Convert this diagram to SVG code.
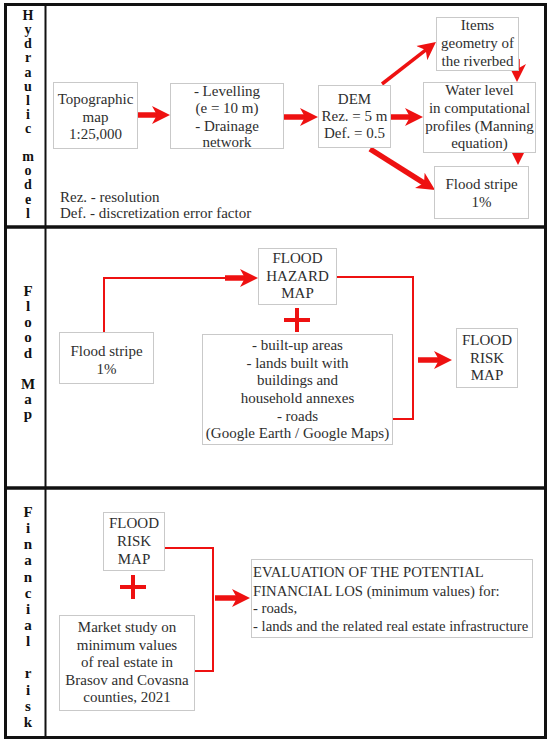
<svg xmlns="http://www.w3.org/2000/svg" width="549" height="742" viewBox="0 0 549 742">
<style>
  .bx{fill:#fff;stroke:#c9c9c9;stroke-width:1}
  .t{font-family:"Liberation Serif","Times New Roman","DejaVu Serif",serif;font-size:15px;fill:#2e2e2e;text-anchor:middle}
  .tl{font-family:"Liberation Serif","Times New Roman","DejaVu Serif",serif;font-size:15px;fill:#2e2e2e;text-anchor:start}
  .te{font-family:"Liberation Serif","Times New Roman","DejaVu Serif",serif;font-size:14.7px;fill:#2e2e2e;text-anchor:start}
  .v{font-family:"Liberation Serif","Times New Roman","DejaVu Serif",serif;font-size:15px;font-weight:bold;fill:#111;text-anchor:middle}
  .vs{font-family:"Liberation Serif","Times New Roman","DejaVu Serif",serif;font-size:14px;font-weight:bold;fill:#111;text-anchor:middle}
  .fr{fill:none;stroke:#111}
  .ar{stroke:#ee1111;stroke-width:5.5;fill:none;marker-end:url(#ah)}
  .ard{stroke:#ee1111;stroke-width:3.5;fill:none;marker-end:url(#ah)}
  .ln{stroke:#ee1111;stroke-width:2;fill:none}
  .pl{stroke:#ee1111;stroke-width:4;fill:none}
</style>
<defs>
  <marker id="ah" markerUnits="userSpaceOnUse" markerWidth="20" markerHeight="20" refX="6" refY="10" orient="auto">
    <path d="M0,1 L18,10 L0,19 L5,10 Z" fill="#ee1111"/>
  </marker>
</defs>
<rect width="549" height="742" fill="#fff"/>
<g id="frame">
  <rect class="fr" x="5.5" y="4.5" width="540" height="733" stroke-width="3"/>
  <line class="fr" x1="45.5" y1="4" x2="45.5" y2="738" stroke-width="2"/>
  <line class="fr" x1="4" y1="227" x2="546" y2="227" stroke-width="3.5"/>
  <line class="fr" x1="4" y1="488" x2="546" y2="488" stroke-width="3.5"/>
</g>
<g id="label-hydraulic">
  <text class="vs" x="28" y="20">H</text>
  <text class="vs" x="28" y="34">y</text>
  <text class="vs" x="28" y="48">d</text>
  <text class="vs" x="28" y="62">r</text>
  <text class="vs" x="28" y="77">a</text>
  <text class="vs" x="28" y="91">u</text>
  <text class="vs" x="28" y="105">l</text>
  <text class="vs" x="28" y="119">i</text>
  <text class="vs" x="28" y="133">c</text>
  <text class="vs" x="28" y="161">m</text>
  <text class="vs" x="28" y="175">o</text>
  <text class="vs" x="28" y="189">d</text>
  <text class="vs" x="28" y="204">e</text>
  <text class="vs" x="28" y="218">l</text>
</g>
<g id="label-floodmap">
  <text class="v" x="28" y="296">F</text>
  <text class="v" x="28" y="311">l</text>
  <text class="v" x="28" y="327">o</text>
  <text class="v" x="28" y="342">o</text>
  <text class="v" x="28" y="358">d</text>
  <text class="v" x="28" y="389">M</text>
  <text class="v" x="28" y="404">a</text>
  <text class="v" x="28" y="419">p</text>
</g>
<g id="label-financial">
  <text class="v" x="28" y="517">F</text>
  <text class="v" x="28" y="533">i</text>
  <text class="v" x="28" y="549">n</text>
  <text class="v" x="28" y="565">a</text>
  <text class="v" x="28" y="582">n</text>
  <text class="v" x="28" y="598">c</text>
  <text class="v" x="28" y="614">i</text>
  <text class="v" x="28" y="630">a</text>
  <text class="v" x="28" y="646">l</text>
  <text class="v" x="28" y="678">r</text>
  <text class="v" x="28" y="695">i</text>
  <text class="v" x="28" y="711">s</text>
  <text class="v" x="28" y="727">k</text>
</g>
<g id="connectors">
  <line class="ar" x1="138" y1="115" x2="158" y2="115"/>
  <line class="ar" x1="284" y1="117" x2="306" y2="117"/>
  <line class="ar" x1="391" y1="117" x2="411" y2="117"/>
  <line class="ard" x1="382" y1="84" x2="426.5" y2="49.4"/>
  <line class="ar" x1="370" y1="149" x2="424.9" y2="183.6"/>
  <line class="ar" x1="517" y1="59" x2="517" y2="70"/>
  <line class="ar" x1="518" y1="142" x2="518" y2="153"/>
  <polyline class="ln" points="104,332 104,278 226,278"/>
  <line class="ar" x1="225" y1="278" x2="246" y2="278"/>
  <polyline class="ln" points="336,277 413,277 413,419 392,419"/>
  <line class="ar" x1="418" y1="360" x2="440" y2="360"/>
  <polyline class="ln" points="164,548 213,548 213,671 194,671"/>
  <line class="ar" x1="215" y1="598" x2="238" y2="598"/>
  <path class="pl" d="M284,320 H310 M297,308 V332"/>
  <path class="pl" d="M120,587 H146 M133,575 V599"/>
</g>
<g id="topo">
  <rect class="bx" x="53.5" y="82.5" width="84" height="66"/>
  <text class="t" x="95.5" y="104">Topographic</text>
  <text class="t" x="95.5" y="121.5">map</text>
  <text class="t" x="95.5" y="139">1:25,000</text>
</g>
<g id="levelling">
  <rect class="bx" x="170.5" y="83.5" width="113" height="65"/>
  <text class="t" x="227" y="96">- Levelling</text>
  <text class="t" x="227" y="113">(e = 10 m)</text>
  <text class="t" x="227" y="130.5">- Drainage</text>
  <text class="t" x="227" y="147">network</text>
</g>
<g id="dem">
  <rect class="bx" x="318.5" y="85.5" width="72" height="62"/>
  <text class="t" x="354.5" y="104">DEM</text>
  <text class="t" x="354.5" y="121">Rez. = 5 m</text>
  <text class="t" x="354.5" y="138">Def. = 0.5</text>
</g>
<g id="items">
  <rect class="bx" x="436.5" y="17.5" width="82" height="53"/>
  <text class="t" x="477.5" y="30">Items</text>
  <text class="t" x="477.5" y="48">geometry of</text>
  <text class="t" x="477.5" y="65.5">the riverbed</text>
</g>
<g id="waterlevel">
  <rect class="bx" x="423.5" y="82.5" width="112" height="70"/>
  <text class="t" x="479.5" y="95">Water level</text>
  <text class="t" x="479.5" y="113">in computational</text>
  <text class="t" x="479.5" y="130.5">profiles (Manning</text>
  <text class="t" x="479.5" y="148">equation)</text>
</g>
<g id="floodstripe1">
  <rect class="bx" x="434.5" y="166.5" width="94" height="52"/>
  <text class="t" x="481.5" y="189">Flood stripe</text>
  <text class="t" x="481.5" y="207">1%</text>
</g>
<g id="legend">
  <text class="tl" x="60" y="202">Rez. - resolution</text>
  <text class="tl" x="60" y="218">Def. - discretization error factor</text>
</g>
<g id="floodstripe2">
  <rect class="bx" x="59.5" y="332.5" width="94" height="51"/>
  <text class="t" x="106.5" y="356">Flood stripe</text>
  <text class="t" x="106.5" y="374">1%</text>
</g>
<g id="hazard">
  <rect class="bx" x="258.5" y="248.5" width="78" height="56"/>
  <text class="t" x="297.5" y="263">FLOOD</text>
  <text class="t" x="297.5" y="281">HAZARD</text>
  <text class="t" x="297.5" y="298">MAP</text>
</g>
<g id="builtup">
  <rect class="bx" x="202.5" y="334.5" width="190" height="110"/>
  <text class="t" x="297.5" y="350">- built-up areas</text>
  <text class="t" x="297.5" y="367.5">- lands built with</text>
  <text class="t" x="297.5" y="385">buildings and</text>
  <text class="t" x="297.5" y="403">household annexes</text>
  <text class="t" x="297.5" y="420.5">- roads</text>
  <text class="t" x="297.5" y="438">(Google Earth / Google Maps)</text>
</g>
<g id="riskmap1">
  <rect class="bx" x="456.5" y="328.5" width="61" height="59"/>
  <text class="t" x="487" y="345">FLOOD</text>
  <text class="t" x="487" y="363">RISK</text>
  <text class="t" x="487" y="380">MAP</text>
</g>
<g id="riskmap2">
  <rect class="bx" x="103.5" y="512.5" width="61" height="58"/>
  <text class="t" x="134" y="528">FLOOD</text>
  <text class="t" x="134" y="546">RISK</text>
  <text class="t" x="134" y="564">MAP</text>
</g>
<g id="market">
  <rect class="bx" x="59.5" y="615.5" width="135" height="95"/>
  <text class="t" x="127" y="632">Market study on</text>
  <text class="t" x="127" y="649.5">minimum values</text>
  <text class="t" x="127" y="667">of real estate in</text>
  <text class="t" x="127" y="684.5">Brasov and Covasna</text>
  <text class="t" x="127" y="702">counties, 2021</text>
</g>
<g id="evaluation">
  <rect class="bx" x="251.5" y="559.5" width="281" height="78"/>
  <text class="te" x="253" y="577">EVALUATION OF THE POTENTIAL</text>
  <text class="te" x="253" y="595.5">FINANCIAL LOS (minimum values) for:</text>
  <text class="te" x="253" y="613">- roads,</text>
  <text class="te" x="253" y="631">- lands and the related real estate infrastructure</text>
</g>
</svg>
